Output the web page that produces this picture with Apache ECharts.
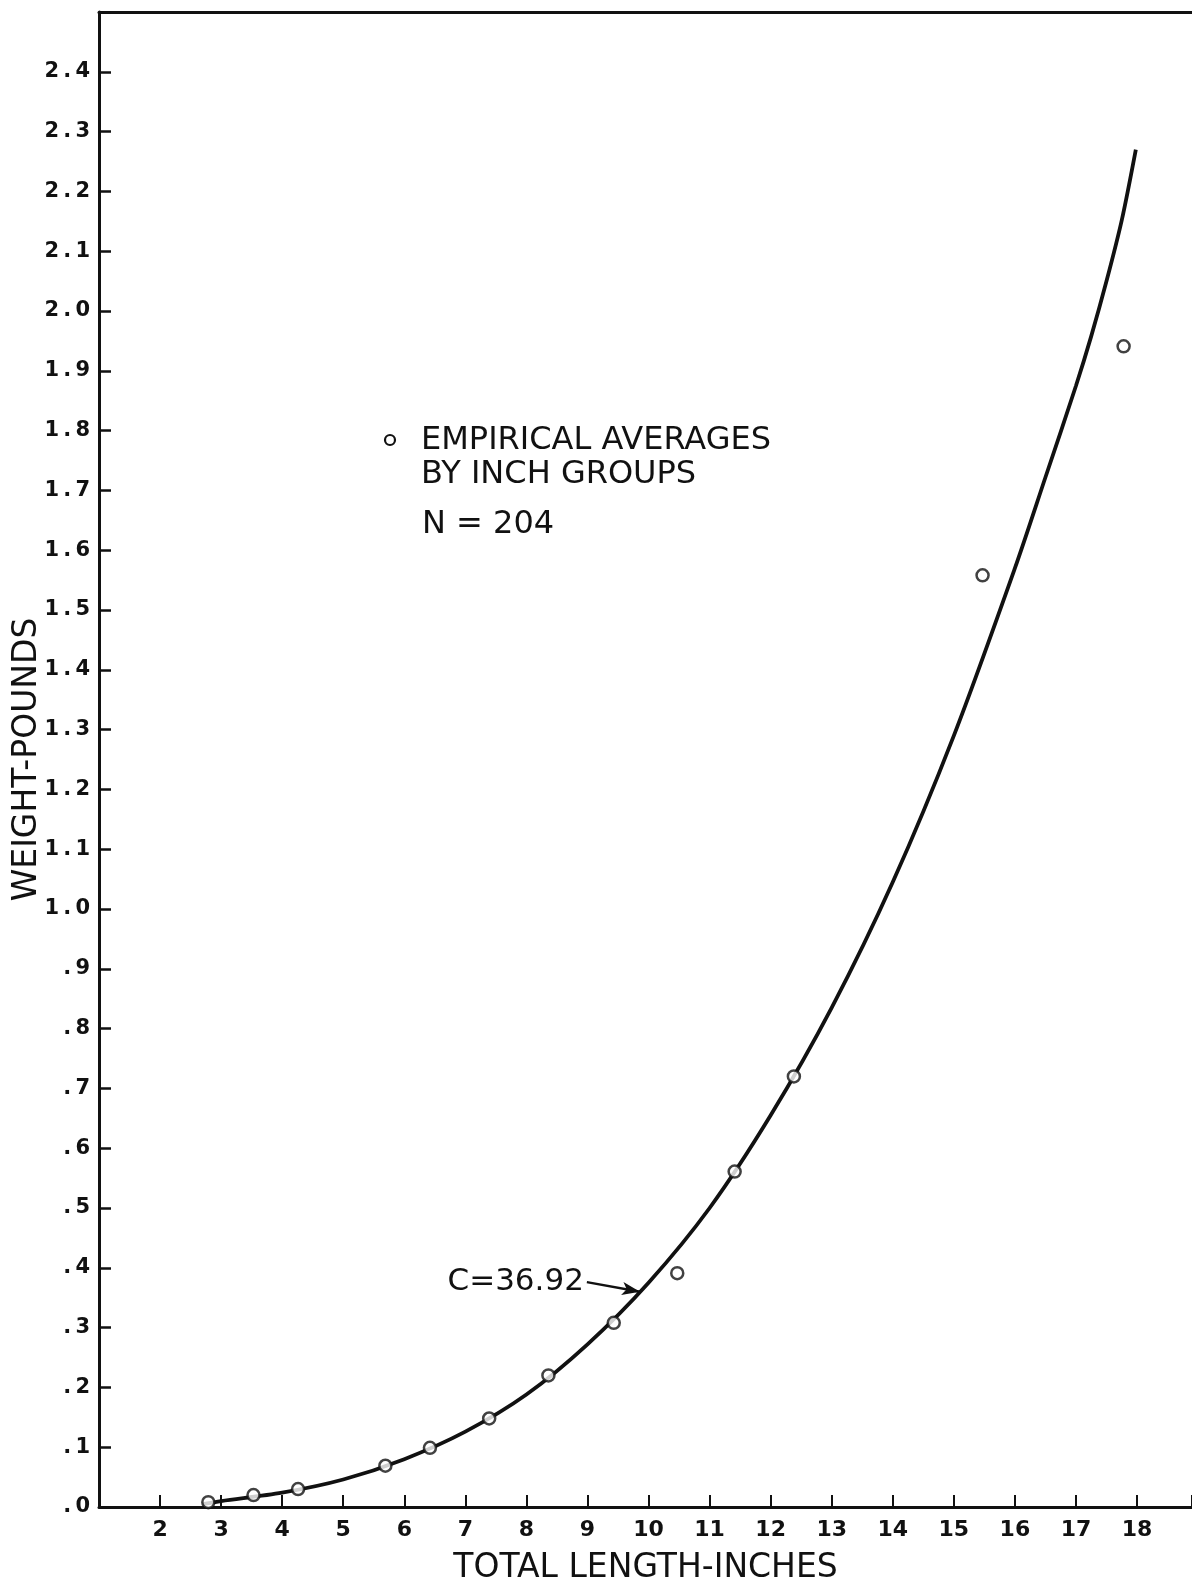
<!DOCTYPE html>
<html>
<head>
<meta charset="utf-8">
<title>Length-weight relationship</title>
<script src="https://cdn.jsdelivr.net/npm/echarts@6/dist/echarts.min.js"></script>
<style>
  html, body { margin: 0; padding: 0; background: #fff; }
  #chart { width: 1192px; height: 1579px; }
</style>
</head>
<body>
<div id="chart"></div>
<script>
// Empirical averages by inch groups (total length in inches, weight in pounds)
const groupLength = [2.79, 3.53, 4.26, 5.69, 6.42, 7.39, 8.36, 9.43, 10.47, 11.41, 12.38, 15.47, 17.78];
const groupWeight = [0.008, 0.020, 0.030, 0.069, 0.099, 0.148, 0.220, 0.308, 0.391, 0.561, 0.720, 1.558, 1.941];

// Fitted length-weight curve (C = 36.92), read along its course
const curveLength = [2.7, 3, 4, 5, 6, 7, 8, 9, 10, 11, 12, 13, 14, 15, 16, 16.5, 17, 17.25, 17.5, 17.75, 17.98];
const curveWeight = [0.005, 0.010, 0.024, 0.046, 0.080, 0.126, 0.188, 0.272, 0.375, 0.500, 0.655, 0.835, 1.045, 1.290, 1.570, 1.722, 1.875, 1.958, 2.050, 2.152, 2.270];

// Pointer from the curve label to the curve
const labelTail = [8.99, 0.376];
const labelTip = [9.86, 0.360];
const curveLabel = 'C=36.92';

const legendLines = ['EMPIRICAL AVERAGES', 'BY INCH GROUPS'];
const sampleNote = 'N = 204';

const FONT = '"DejaVu Sans", "Liberation Sans", sans-serif';
const INK = '#111';

function spaced(s) { return s.split('').join('\u2009'); }

const chart = echarts.init(document.getElementById('chart'), null, { renderer: 'canvas' });

const option = {
  backgroundColor: '#fff',
  animation: false,
  grid: { left: 99, right: 0, top: 12, bottom: 72, containLabel: false, outerBoundsMode: 'none' },
  xAxis: [{
    type: 'value',
    min: 1, max: 18.9, interval: 1,
    name: 'TOTAL LENGTH-INCHES',
    nameLocation: 'middle',
    nameGap: 45,
    nameTextStyle: { fontFamily: FONT, fontSize: 33, color: INK },
    axisLine: { show: true, onZero: false, lineStyle: { color: INK, width: 3 } },
    axisTick: { show: true, inside: true, length: 12, lineStyle: { color: INK, width: 2 } },
    axisLabel: {
      fontFamily: FONT, fontSize: 22, fontWeight: 'bold', color: INK, margin: 12,
      formatter: v => (v < 1.5 || v > 18.5) ? '' : String(v)
    },
    splitLine: { show: false }
  }, {
    type: 'value',
    position: 'top',
    min: 1, max: 18.9,
    axisLine: { show: true, onZero: false, lineStyle: { color: INK, width: 3 } },
    axisTick: { show: false },
    axisLabel: { show: false },
    splitLine: { show: false }
  }],
  yAxis: {
    type: 'value',
    min: 0, max: 2.5, interval: 0.1,
    name: 'WEIGHT-POUNDS',
    nameLocation: 'middle',
    nameGap: 55,
    nameRotate: 90,
    nameMoveOverlap: false,
    nameTextStyle: { fontFamily: FONT, fontSize: 33, color: INK },
    axisLine: { show: true, onZero: false, lineStyle: { color: INK, width: 3 } },
    axisTick: { show: true, inside: true, length: 12, lineStyle: { color: INK, width: 2.5 } },
    axisLabel: {
      fontFamily: FONT, fontSize: 21, fontWeight: 'bold', color: INK, margin: 9,
      formatter: v => {
        if (v > 2.45) return '';
        let s = v.toFixed(1);
        if (v < 0.95) s = s.slice(1);
        return spaced(s);
      }
    },
    splitLine: { show: false }
  },
  series: [{
    name: 'curve',
    type: 'line',
    data: curveLength.map((x, i) => [x, curveWeight[i]]),
    smooth: 0.3,
    showSymbol: false,
    symbol: 'none',
    lineStyle: { color: INK, width: 3.8 },
    z: 2,
    markLine: {
      silent: true,
      symbol: ['none', 'arrow'],
      symbolSize: [10, 18],
      label: { show: false },
      lineStyle: { color: INK, width: 2.4, type: 'solid' },
      data: [[{ coord: labelTail }, { coord: labelTip }]]
    }
  }, {
    name: 'averages',
    type: 'scatter',
    data: groupLength.map((x, i) => [x, groupWeight[i]]),
    symbol: 'circle',
    symbolSize: 12,
    itemStyle: { color: '#fff', borderColor: INK, borderWidth: 2.5 },
    z: 5
  }]
};

chart.setOption(option);

// Annotation text placed through the grid's own coordinate conversion
const tailPx = chart.convertToPixel({ gridIndex: 0 }, labelTail);

chart.setOption({
  graphic: [
    {
      type: 'circle',
      shape: { cx: 390, cy: 440, r: 5 },
      style: { fill: '#fff', stroke: INK, lineWidth: 2.2 }
    },
    {
      type: 'text',
      left: 421, top: 424,
      style: { text: legendLines.join('\n'), fontFamily: FONT, fontSize: 32, lineHeight: 34, fill: INK }
    },
    {
      type: 'text',
      left: 422, top: 509,
      style: { text: sampleNote, fontFamily: FONT, fontSize: 32, fill: INK }
    },
    {
      type: 'text',
      x: tailPx[0] - 3, y: tailPx[1],
      style: { text: curveLabel, fontFamily: FONT, fontSize: 31, fill: INK, align: 'right', verticalAlign: 'middle' }
    }
  ]
});
</script>
</body>
</html>
